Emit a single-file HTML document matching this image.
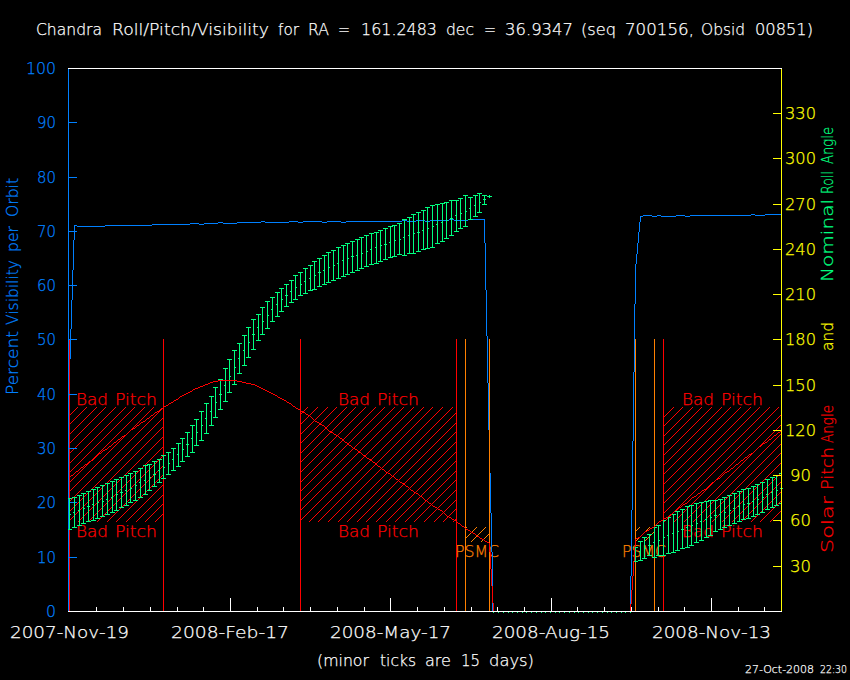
<!DOCTYPE html>
<html><head><meta charset="utf-8"><title>Chandra Roll/Pitch/Visibility</title>
<style>html,body{margin:0;padding:0;background:#000;}svg{display:block}text{font-family:'DejaVu Sans','Liberation Sans',sans-serif;font-weight:200}</style></head>
<body><svg width="850" height="680" viewBox="0 0 850 680">
<rect width="850" height="680" fill="#000"/>
<g shape-rendering="crispEdges">
<clipPath id="h1"><rect x="69" y="407" width="95" height="115"/></clipPath>
<path clip-path="url(#h1)" d="M60.00 405L-59.00 524M70.00 405L-49.00 524M80.00 405L-39.00 524M89.00 405L-30.00 524M99.00 405L-20.00 524M108.00 405L-11.00 524M118.00 405L-1.00 524M128.00 405L9.00 524M137.00 405L18.00 524M147.00 405L28.00 524M156.00 405L37.00 524M166.00 405L47.00 524M176.00 405L57.00 524M185.00 405L66.00 524M195.00 405L76.00 524M205.00 405L86.00 524M214.00 405L95.00 524M224.00 405L105.00 524M233.00 405L114.00 524M243.00 405L124.00 524M253.00 405L134.00 524M262.00 405L143.00 524M272.00 405L153.00 524M281.00 405L162.00 524M291.00 405L172.00 524" stroke="#ff0000" stroke-width="1" fill="none"/>
<clipPath id="h2"><rect x="301" y="407" width="155" height="115"/></clipPath>
<path clip-path="url(#h2)" d="M291.00 405L172.00 524M301.00 405L182.00 524M310.00 405L191.00 524M320.00 405L201.00 524M330.00 405L211.00 524M339.00 405L220.00 524M349.00 405L230.00 524M358.00 405L239.00 524M368.00 405L249.00 524M378.00 405L259.00 524M387.00 405L268.00 524M397.00 405L278.00 524M406.00 405L287.00 524M416.00 405L297.00 524M426.00 405L307.00 524M435.00 405L316.00 524M445.00 405L326.00 524M455.00 405L336.00 524M464.00 405L345.00 524M474.00 405L355.00 524M483.00 405L364.00 524M493.00 405L374.00 524M503.00 405L384.00 524M512.00 405L393.00 524M522.00 405L403.00 524M531.00 405L412.00 524M541.00 405L422.00 524M551.00 405L432.00 524M560.00 405L441.00 524M570.00 405L451.00 524M579.00 405L460.00 524M589.00 405L470.00 524" stroke="#ff0000" stroke-width="1" fill="none"/>
<clipPath id="h3"><rect x="664" y="407" width="117" height="115"/></clipPath>
<path clip-path="url(#h3)" d="M656.00 405L537.00 524M666.00 405L547.00 524M676.00 405L557.00 524M685.00 405L566.00 524M695.00 405L576.00 524M704.00 405L585.00 524M714.00 405L595.00 524M724.00 405L605.00 524M733.00 405L614.00 524M743.00 405L624.00 524M753.00 405L634.00 524M762.00 405L643.00 524M772.00 405L653.00 524M781.00 405L662.00 524M791.00 405L672.00 524M801.00 405L682.00 524M810.00 405L691.00 524M820.00 405L701.00 524M829.00 405L710.00 524M839.00 405L720.00 524M849.00 405L730.00 524M858.00 405L739.00 524M868.00 405L749.00 524M877.00 405L758.00 524M887.00 405L768.00 524M897.00 405L778.00 524M906.00 405L787.00 524M916.00 405L797.00 524" stroke="#ff0000" stroke-width="1" fill="none"/>
<clipPath id="h4"><rect x="466" y="527" width="23" height="15"/></clipPath>
<path clip-path="url(#h4)" d="M450.00 525L431.00 544M459.00 525L440.00 544M469.00 525L450.00 544M479.00 525L460.00 544M488.00 525L469.00 544M498.00 525L479.00 544M508.00 525L489.00 544M517.00 525L498.00 544" stroke="#ff8000" stroke-width="1" fill="none"/>
<clipPath id="h5"><rect x="636" y="527" width="18" height="14"/></clipPath>
<path clip-path="url(#h5)" d="M623.00 525L605.00 543M633.00 525L615.00 543M642.00 525L624.00 543M652.00 525L634.00 543M661.00 525L643.00 543M671.00 525L653.00 543M681.00 525L663.00 543" stroke="#ff8000" stroke-width="1" fill="none"/>
</g>
<text id="bp00a" fill="#ff0000" stroke="#ff0000" stroke-width="0.25" font-size="16.00" textLength="32.00" lengthAdjust="spacingAndGlyphs" x="76.00" y="405.00">Bad</text>
<text id="bp00b" fill="#ff0000" stroke="#ff0000" stroke-width="0.25" font-size="16.00" textLength="42.00" lengthAdjust="spacingAndGlyphs" x="115.00" y="405.00">Pitch</text>
<text id="bp01a" fill="#ff0000" stroke="#ff0000" stroke-width="0.25" font-size="16.00" textLength="32.00" lengthAdjust="spacingAndGlyphs" x="76.00" y="537.00">Bad</text>
<text id="bp01b" fill="#ff0000" stroke="#ff0000" stroke-width="0.25" font-size="16.00" textLength="42.00" lengthAdjust="spacingAndGlyphs" x="115.00" y="537.00">Pitch</text>
<text id="bp10a" fill="#ff0000" stroke="#ff0000" stroke-width="0.25" font-size="16.00" textLength="32.00" lengthAdjust="spacingAndGlyphs" x="338.00" y="405.00">Bad</text>
<text id="bp10b" fill="#ff0000" stroke="#ff0000" stroke-width="0.25" font-size="16.00" textLength="42.00" lengthAdjust="spacingAndGlyphs" x="377.00" y="405.00">Pitch</text>
<text id="bp11a" fill="#ff0000" stroke="#ff0000" stroke-width="0.25" font-size="16.00" textLength="32.00" lengthAdjust="spacingAndGlyphs" x="338.00" y="537.00">Bad</text>
<text id="bp11b" fill="#ff0000" stroke="#ff0000" stroke-width="0.25" font-size="16.00" textLength="42.00" lengthAdjust="spacingAndGlyphs" x="377.00" y="537.00">Pitch</text>
<text id="bp20a" fill="#ff0000" stroke="#ff0000" stroke-width="0.25" font-size="16.00" textLength="32.00" lengthAdjust="spacingAndGlyphs" x="682.00" y="405.00">Bad</text>
<text id="bp20b" fill="#ff0000" stroke="#ff0000" stroke-width="0.25" font-size="16.00" textLength="42.00" lengthAdjust="spacingAndGlyphs" x="721.00" y="405.00">Pitch</text>
<text id="bp21a" fill="#ff0000" stroke="#ff0000" stroke-width="0.25" font-size="16.00" textLength="32.00" lengthAdjust="spacingAndGlyphs" x="682.00" y="537.00">Bad</text>
<text id="bp21b" fill="#ff0000" stroke="#ff0000" stroke-width="0.25" font-size="16.00" textLength="42.00" lengthAdjust="spacingAndGlyphs" x="721.00" y="537.00">Pitch</text>
<text id="ps0" fill="#ff8000" stroke="#ff8000" stroke-width="0.25" font-size="16.00" textLength="44.00" lengthAdjust="spacingAndGlyphs" x="455.00" y="557.00">PSMC</text>
<text id="ps1" fill="#ff8000" stroke="#ff8000" stroke-width="0.25" font-size="16.00" textLength="44.00" lengthAdjust="spacingAndGlyphs" x="622.00" y="557.00">PSMC</text>
<g shape-rendering="crispEdges">
<rect x="69" y="339" width="1" height="272" fill="#ff0000"/>
<rect x="163" y="339" width="1" height="272" fill="#ff0000"/>
<rect x="300" y="339" width="1" height="272" fill="#ff0000"/>
<rect x="456" y="339" width="1" height="272" fill="#ff0000"/>
<rect x="663" y="339" width="1" height="272" fill="#ff0000"/>
<path d="M70 329h1v30h-1zM71 300h1v29h-1zM72 270h1v30h-1zM73 240h1v30h-1zM74 225h1v15h-1zM74 225h3v1h-3zM77 226h28v1h-28zM105 225h47v1h-47zM152 224h38v1h-38zM190 223h9v1h-9zM199 224h5v1h-5zM204 223h14v1h-14zM218 222h5v1h-5zM223 223h14v1h-14zM237 222h24v1h-24zM261 221h4v1h-4zM265 222h24v1h-24zM289 221h9v1h-9zM298 222h5v1h-5zM303 221h19v1h-19zM322 222h5v1h-5zM327 221h14v1h-14zM341 222h5v1h-5zM346 221h56v1h-56zM402 220h5v1h-5zM407 221h9v1h-9zM416 220h9v1h-9zM425 221h5v1h-5zM430 220h19v1h-19zM449 219h5v1h-5zM454 220h14v1h-14zM468 219h17v1h-17zM484 219h1v24h-1zM485 243h1v47h-1zM486 290h1v46h-1zM487 336h1v47h-1zM488 383h1v47h-1zM489 430h1v43h-1zM490 473h1v40h-1zM491 513h1v39h-1zM492 552h1v60h-1zM630 576h1v36h-1zM631 510h1v66h-1zM632 441h1v69h-1zM633 372h1v69h-1zM634 304h1v68h-1zM635 264h1v40h-1zM636 254h1v10h-1zM637 243h1v11h-1zM638 232h1v11h-1zM639 222h1v10h-1zM640 216h1v6h-1zM640 216h3v1h-3zM643 215h9v1h-9zM652 216h5v1h-5zM657 215h4v1h-4zM661 216h15v1h-15zM676 215h9v1h-9zM685 216h5v1h-5zM690 215h61v1h-61zM751 214h4v1h-4zM755 215h10v1h-10zM765 214h16v1h-16z" fill="#0080ff"/>
<rect x="465" y="339" width="1" height="272" fill="#ff8000"/>
<rect x="489" y="339" width="1" height="272" fill="#ff8000"/>
<rect x="635" y="339" width="1" height="272" fill="#ff8000"/>
<rect x="654" y="339" width="1" height="272" fill="#ff8000"/>
<rect x="68" y="68" width="1" height="544" fill="#0080ff"/>
<rect x="68" y="68" width="714" height="1" fill="#ffffff"/>
<rect x="68" y="611" width="714" height="1" fill="#ffffff"/>
<rect x="68" y="557" width="9" height="1" fill="#0080ff"/>
<rect x="68" y="502" width="9" height="1" fill="#0080ff"/>
<rect x="68" y="448" width="9" height="1" fill="#0080ff"/>
<rect x="68" y="394" width="9" height="1" fill="#0080ff"/>
<rect x="68" y="339" width="9" height="1" fill="#0080ff"/>
<rect x="68" y="285" width="9" height="1" fill="#0080ff"/>
<rect x="68" y="231" width="9" height="1" fill="#0080ff"/>
<rect x="68" y="177" width="9" height="1" fill="#0080ff"/>
<rect x="68" y="122" width="9" height="1" fill="#0080ff"/>
<rect x="96" y="607" width="1" height="4" fill="#ffffff"/>
<rect x="123" y="607" width="1" height="4" fill="#ffffff"/>
<rect x="150" y="607" width="1" height="4" fill="#ffffff"/>
<rect x="177" y="607" width="1" height="4" fill="#ffffff"/>
<rect x="203" y="607" width="1" height="4" fill="#ffffff"/>
<rect x="230" y="598" width="1" height="13" fill="#ffffff"/>
<rect x="257" y="607" width="1" height="4" fill="#ffffff"/>
<rect x="283" y="607" width="1" height="4" fill="#ffffff"/>
<rect x="310" y="607" width="1" height="4" fill="#ffffff"/>
<rect x="337" y="607" width="1" height="4" fill="#ffffff"/>
<rect x="364" y="607" width="1" height="4" fill="#ffffff"/>
<rect x="390" y="598" width="1" height="13" fill="#ffffff"/>
<rect x="417" y="607" width="1" height="4" fill="#ffffff"/>
<rect x="444" y="607" width="1" height="4" fill="#ffffff"/>
<rect x="471" y="607" width="1" height="4" fill="#ffffff"/>
<rect x="497" y="607" width="1" height="4" fill="#ffffff"/>
<rect x="524" y="607" width="1" height="4" fill="#ffffff"/>
<rect x="551" y="598" width="1" height="13" fill="#ffffff"/>
<rect x="577" y="607" width="1" height="4" fill="#ffffff"/>
<rect x="604" y="607" width="1" height="4" fill="#ffffff"/>
<rect x="631" y="607" width="1" height="4" fill="#ffffff"/>
<rect x="658" y="607" width="1" height="4" fill="#ffffff"/>
<rect x="684" y="607" width="1" height="4" fill="#ffffff"/>
<rect x="711" y="598" width="1" height="13" fill="#ffffff"/>
<rect x="738" y="607" width="1" height="4" fill="#ffffff"/>
<rect x="764" y="607" width="1" height="4" fill="#ffffff"/>
<path d="M69 498h1v32h-1zM68 498h4v1h-4zM68 529h4v1h-4zM70 514h1v1h-1zM74 497h1v31h-1zM72 497h5v1h-5zM72 527h5v1h-5zM73 512h1v1h-1zM79 495h1v31h-1zM77 495h5v1h-5zM77 525h5v1h-5zM78 510h1v1h-1zM83 493h1v31h-1zM81 493h5v1h-5zM81 523h5v1h-5zM84 508h1v1h-1zM88 491h1v31h-1zM86 491h5v1h-5zM86 521h5v1h-5zM87 506h3v1h-3zM93 489h1v32h-1zM91 489h5v1h-5zM91 520h5v1h-5zM92 504h1v1h-1zM97 487h1v32h-1zM95 487h5v1h-5zM95 518h5v1h-5zM98 502h1v1h-1zM102 485h1v32h-1zM100 485h5v1h-5zM100 516h5v1h-5zM103 501h1v1h-1zM107 483h1v32h-1zM105 483h5v1h-5zM105 514h5v1h-5zM106 499h1v1h-1zM112 481h1v32h-1zM110 481h5v1h-5zM110 512h5v1h-5zM111 497h1v1h-1zM116 479h1v32h-1zM114 479h5v1h-5zM114 510h5v1h-5zM117 494h1v1h-1zM121 477h1v31h-1zM119 477h5v1h-5zM119 507h5v1h-5zM120 492h3v1h-3zM126 475h1v31h-1zM124 475h5v1h-5zM124 505h5v1h-5zM125 490h1v1h-1zM130 473h1v30h-1zM128 473h5v1h-5zM128 502h5v1h-5zM131 488h1v1h-1zM135 471h1v30h-1zM133 471h5v1h-5zM133 500h5v1h-5zM136 485h1v1h-1zM140 468h1v30h-1zM138 468h5v1h-5zM138 497h5v1h-5zM139 482h1v1h-1zM145 465h1v30h-1zM143 465h5v1h-5zM143 494h5v1h-5zM144 480h1v1h-1zM149 464h1v27h-1zM147 464h5v1h-5zM147 490h5v1h-5zM150 477h1v1h-1zM154 461h1v26h-1zM152 461h5v1h-5zM152 486h5v1h-5zM153 474h3v1h-3zM159 459h1v24h-1zM157 459h5v1h-5zM157 482h5v1h-5zM158 470h1v1h-1zM163 455h1v24h-1zM161 455h5v1h-5zM161 478h5v1h-5zM164 467h1v1h-1zM168 452h1v23h-1zM166 452h5v1h-5zM166 474h5v1h-5zM169 463h1v1h-1zM173 448h1v23h-1zM171 448h5v1h-5zM171 470h5v1h-5zM172 459h1v1h-1zM178 443h1v24h-1zM176 443h5v1h-5zM176 466h5v1h-5zM177 454h1v1h-1zM182 438h1v24h-1zM180 438h5v1h-5zM180 461h5v1h-5zM183 449h1v1h-1zM187 432h1v25h-1zM185 432h5v1h-5zM185 456h5v1h-5zM186 444h3v1h-3zM192 425h1v28h-1zM190 425h5v1h-5zM190 452h5v1h-5zM191 438h1v1h-1zM196 419h1v27h-1zM194 419h5v1h-5zM194 445h5v1h-5zM197 432h1v1h-1zM201 411h1v30h-1zM199 411h5v1h-5zM199 440h5v1h-5zM202 425h1v1h-1zM206 403h1v31h-1zM204 403h5v1h-5zM204 433h5v1h-5zM205 418h1v1h-1zM211 396h1v30h-1zM209 396h5v1h-5zM209 425h5v1h-5zM210 411h1v1h-1zM215 387h1v31h-1zM213 387h5v1h-5zM213 417h5v1h-5zM216 402h1v1h-1zM220 379h1v31h-1zM218 379h5v1h-5zM218 409h5v1h-5zM219 394h3v1h-3zM225 368h1v34h-1zM223 368h5v1h-5zM223 401h5v1h-5zM224 385h1v1h-1zM229 359h1v34h-1zM227 359h5v1h-5zM227 392h5v1h-5zM230 376h1v1h-1zM234 350h1v35h-1zM232 350h5v1h-5zM232 384h5v1h-5zM235 367h1v1h-1zM239 343h1v31h-1zM237 343h5v1h-5zM237 373h5v1h-5zM238 358h1v1h-1zM244 335h1v31h-1zM242 335h5v1h-5zM242 365h5v1h-5zM243 350h1v1h-1zM248 327h1v31h-1zM246 327h5v1h-5zM246 357h5v1h-5zM249 342h1v1h-1zM253 319h1v31h-1zM251 319h5v1h-5zM251 349h5v1h-5zM252 334h3v1h-3zM258 314h1v27h-1zM256 314h5v1h-5zM256 340h5v1h-5zM257 327h1v1h-1zM262 307h1v28h-1zM260 307h5v1h-5zM260 334h5v1h-5zM263 321h1v1h-1zM267 301h1v28h-1zM265 301h5v1h-5zM265 328h5v1h-5zM268 315h1v1h-1zM272 297h1v25h-1zM270 297h5v1h-5zM270 321h5v1h-5zM271 309h1v1h-1zM277 292h1v25h-1zM275 292h5v1h-5zM275 316h5v1h-5zM276 304h1v1h-1zM281 288h1v24h-1zM279 288h5v1h-5zM279 311h5v1h-5zM282 299h1v1h-1zM286 284h1v23h-1zM284 284h5v1h-5zM284 306h5v1h-5zM285 295h3v1h-3zM291 280h1v23h-1zM289 280h5v1h-5zM289 302h5v1h-5zM290 291h1v1h-1zM295 275h1v25h-1zM293 275h5v1h-5zM293 299h5v1h-5zM296 287h1v1h-1zM300 272h1v24h-1zM298 272h5v1h-5zM298 295h5v1h-5zM301 284h1v1h-1zM305 268h1v26h-1zM303 268h5v1h-5zM303 293h5v1h-5zM304 281h1v1h-1zM310 265h1v26h-1zM308 265h5v1h-5zM308 290h5v1h-5zM309 278h1v1h-1zM314 261h1v29h-1zM312 261h5v1h-5zM312 289h5v1h-5zM315 275h1v1h-1zM319 258h1v29h-1zM317 258h5v1h-5zM317 286h5v1h-5zM318 272h3v1h-3zM324 255h1v30h-1zM322 255h5v1h-5zM322 284h5v1h-5zM323 270h1v1h-1zM328 252h1v31h-1zM326 252h5v1h-5zM326 282h5v1h-5zM329 267h1v1h-1zM333 250h1v31h-1zM331 250h5v1h-5zM331 280h5v1h-5zM334 265h1v1h-1zM338 247h1v32h-1zM336 247h5v1h-5zM336 278h5v1h-5zM337 263h1v1h-1zM343 245h1v32h-1zM341 245h5v1h-5zM341 276h5v1h-5zM342 260h1v1h-1zM347 243h1v32h-1zM345 243h5v1h-5zM345 274h5v1h-5zM348 258h1v1h-1zM352 241h1v32h-1zM350 241h5v1h-5zM350 272h5v1h-5zM351 256h3v1h-3zM357 239h1v32h-1zM355 239h5v1h-5zM355 270h5v1h-5zM356 255h1v1h-1zM361 237h1v32h-1zM359 237h5v1h-5zM359 268h5v1h-5zM362 253h1v1h-1zM366 235h1v32h-1zM364 235h5v1h-5zM364 266h5v1h-5zM367 251h1v1h-1zM371 233h1v32h-1zM369 233h5v1h-5zM369 264h5v1h-5zM370 249h1v1h-1zM376 232h1v32h-1zM374 232h5v1h-5zM374 263h5v1h-5zM375 247h1v1h-1zM380 230h1v32h-1zM378 230h5v1h-5zM378 261h5v1h-5zM381 245h1v1h-1zM385 228h1v32h-1zM383 228h5v1h-5zM383 259h5v1h-5zM384 244h3v1h-3zM390 226h1v32h-1zM388 226h5v1h-5zM388 257h5v1h-5zM389 242h1v1h-1zM394 225h1v32h-1zM392 225h5v1h-5zM392 256h5v1h-5zM395 240h1v1h-1zM399 223h1v32h-1zM397 223h5v1h-5zM397 254h5v1h-5zM400 239h1v1h-1zM404 219h1v37h-1zM402 219h5v1h-5zM402 255h5v1h-5zM403 237h1v1h-1zM409 217h1v37h-1zM407 217h5v1h-5zM407 253h5v1h-5zM408 235h1v1h-1zM413 214h1v40h-1zM411 214h5v1h-5zM411 253h5v1h-5zM414 233h1v1h-1zM418 212h1v40h-1zM416 212h5v1h-5zM416 251h5v1h-5zM417 232h3v1h-3zM423 210h1v40h-1zM421 210h5v1h-5zM421 249h5v1h-5zM422 230h1v1h-1zM427 207h1v42h-1zM425 207h5v1h-5zM425 248h5v1h-5zM428 228h1v1h-1zM432 205h1v43h-1zM430 205h5v1h-5zM430 247h5v1h-5zM433 226h1v1h-1zM437 204h1v40h-1zM435 204h5v1h-5zM435 243h5v1h-5zM436 224h1v1h-1zM442 203h1v39h-1zM440 203h5v1h-5zM440 241h5v1h-5zM441 222h1v1h-1zM446 202h1v37h-1zM444 202h5v1h-5zM444 238h5v1h-5zM447 220h1v1h-1zM451 200h1v36h-1zM449 200h5v1h-5zM449 235h5v1h-5zM450 218h3v1h-3zM456 200h1v32h-1zM454 200h5v1h-5zM454 231h5v1h-5zM455 215h1v1h-1zM460 198h1v31h-1zM458 198h5v1h-5zM458 228h5v1h-5zM461 213h1v1h-1zM465 195h1v32h-1zM463 195h5v1h-5zM463 226h5v1h-5zM466 211h1v1h-1zM470 197h1v23h-1zM468 197h5v1h-5zM468 219h5v1h-5zM469 208h1v1h-1zM475 195h1v22h-1zM473 195h5v1h-5zM473 216h5v1h-5zM474 205h1v1h-1zM479 193h1v20h-1zM477 193h5v1h-5zM477 212h5v1h-5zM480 202h1v1h-1zM484 195h1v10h-1zM482 195h5v1h-5zM482 204h5v1h-5zM483 199h3v1h-3zM489 196h1v1h-1zM487 196h5v1h-5zM487 196h5v1h-5zM488 196h1v1h-1zM489 195h1v3h-1zM493 612h1v1h-1zM498 612h1v1h-1zM503 612h1v1h-1zM508 612h1v1h-1zM512 612h1v1h-1zM517 612h1v1h-1zM522 612h1v1h-1zM526 612h1v1h-1zM531 612h1v1h-1zM536 612h1v1h-1zM541 612h1v1h-1zM545 612h1v1h-1zM550 612h1v1h-1zM555 612h1v1h-1zM559 612h1v1h-1zM564 612h1v1h-1zM569 612h1v1h-1zM574 612h1v1h-1zM578 612h1v1h-1zM583 612h1v1h-1zM588 612h1v1h-1zM592 612h1v1h-1zM597 612h1v1h-1zM602 612h1v1h-1zM607 612h1v1h-1zM611 612h1v1h-1zM616 612h1v1h-1zM621 612h1v1h-1zM625 612h1v1h-1zM630 612h1v1h-1zM635 547h1v15h-1zM633 547h5v1h-5zM633 561h5v1h-5zM634 554h1v1h-1zM640 541h1v20h-1zM638 541h5v1h-5zM638 560h5v1h-5zM639 551h1v1h-1zM644 537h1v22h-1zM642 537h5v1h-5zM642 558h5v1h-5zM645 548h1v1h-1zM649 534h1v22h-1zM647 534h5v1h-5zM647 555h5v1h-5zM648 545h3v1h-3zM654 527h1v31h-1zM652 527h5v1h-5zM652 557h5v1h-5zM653 542h1v1h-1zM658 525h1v31h-1zM656 525h5v1h-5zM656 555h5v1h-5zM659 540h1v1h-1zM663 520h1v36h-1zM661 520h5v1h-5zM661 555h5v1h-5zM664 537h1v1h-1zM668 517h1v37h-1zM666 517h5v1h-5zM666 553h5v1h-5zM667 535h1v1h-1zM673 514h1v39h-1zM671 514h5v1h-5zM671 552h5v1h-5zM672 533h1v1h-1zM677 511h1v40h-1zM675 511h5v1h-5zM675 550h5v1h-5zM678 531h1v1h-1zM682 509h1v40h-1zM680 509h5v1h-5zM680 548h5v1h-5zM681 529h3v1h-3zM687 506h1v42h-1zM685 506h5v1h-5zM685 547h5v1h-5zM686 527h1v1h-1zM691 505h1v41h-1zM689 505h5v1h-5zM689 545h5v1h-5zM692 525h1v1h-1zM696 503h1v40h-1zM694 503h5v1h-5zM694 542h5v1h-5zM697 523h1v1h-1zM701 502h1v39h-1zM699 502h5v1h-5zM699 540h5v1h-5zM700 521h1v1h-1zM706 501h1v37h-1zM704 501h5v1h-5zM704 537h5v1h-5zM705 519h1v1h-1zM710 500h1v36h-1zM708 500h5v1h-5zM708 535h5v1h-5zM711 517h1v1h-1zM715 500h1v32h-1zM713 500h5v1h-5zM713 531h5v1h-5zM714 515h3v1h-3zM720 499h1v31h-1zM718 499h5v1h-5zM718 529h5v1h-5zM719 514h1v1h-1zM724 497h1v31h-1zM722 497h5v1h-5zM722 527h5v1h-5zM725 512h1v1h-1zM729 495h1v31h-1zM727 495h5v1h-5zM727 525h5v1h-5zM730 510h1v1h-1zM734 493h1v31h-1zM732 493h5v1h-5zM732 523h5v1h-5zM733 508h1v1h-1zM739 491h1v31h-1zM737 491h5v1h-5zM737 521h5v1h-5zM738 506h1v1h-1zM743 489h1v31h-1zM741 489h5v1h-5zM741 519h5v1h-5zM744 504h1v1h-1zM748 488h1v31h-1zM746 488h5v1h-5zM746 518h5v1h-5zM747 503h3v1h-3zM753 486h1v31h-1zM751 486h5v1h-5zM751 516h5v1h-5zM752 501h1v1h-1zM757 484h1v31h-1zM755 484h5v1h-5zM755 514h5v1h-5zM758 499h1v1h-1zM762 482h1v31h-1zM760 482h5v1h-5zM760 512h5v1h-5zM763 497h1v1h-1zM767 479h1v31h-1zM765 479h5v1h-5zM765 509h5v1h-5zM766 494h1v1h-1zM772 477h1v31h-1zM770 477h5v1h-5zM770 507h5v1h-5zM771 492h1v1h-1zM776 475h1v31h-1zM774 475h5v1h-5zM774 505h5v1h-5zM777 490h1v1h-1zM779 473h2v1h-2zM779 503h2v1h-2zM780 488h3v1h-3z" fill="#00ff80"/>
<path d="M218 380h19v1h-19zM213 381h5v1h-5zM237 381h5v1h-5zM210 382h3v1h-3zM242 382h4v1h-4zM208 383h2v1h-2zM246 383h5v1h-5zM205 384h3v1h-3zM251 384h4v1h-4zM203 385h2v1h-2zM255 385h2v1h-2zM200 386h3v1h-3zM257 386h2v1h-2zM198 387h2v1h-2zM259 387h2v1h-2zM195 388h3v1h-3zM261 388h2v1h-2zM193 389h2v1h-2zM263 389h2v1h-2zM192 390h1v1h-1zM265 390h2v1h-2zM190 391h2v1h-2zM267 391h2v1h-2zM188 392h2v1h-2zM269 392h2v1h-2zM186 393h2v1h-2zM271 393h2v1h-2zM184 394h2v1h-2zM273 394h2v1h-2zM182 395h2v1h-2zM275 395h2v1h-2zM180 396h2v1h-2zM277 396h1v1h-1zM179 397h1v1h-1zM278 397h2v1h-2zM178 398h1v1h-1zM280 398h2v1h-2zM176 399h2v1h-2zM282 399h2v1h-2zM174 400h2v1h-2zM284 400h2v1h-2zM173 401h1v1h-1zM286 401h1v1h-1zM171 402h2v1h-2zM287 402h2v1h-2zM169 403h2v1h-2zM289 403h2v1h-2zM168 404h1v1h-1zM291 404h1v1h-1zM166 405h2v1h-2zM292 405h1v1h-1zM164 406h2v1h-2zM293 406h2v1h-2zM163 407h1v1h-1zM295 407h1v1h-1zM161 408h2v1h-2zM296 408h2v1h-2zM160 409h1v1h-1zM298 409h2v1h-2zM159 410h1v1h-1zM300 410h1v1h-1zM157 411h2v1h-2zM301 411h2v1h-2zM155 412h2v1h-2zM303 412h2v1h-2zM154 413h1v1h-1zM305 413h1v1h-1zM153 414h1v1h-1zM306 414h2v1h-2zM151 415h2v1h-2zM308 415h2v1h-2zM150 416h1v1h-1zM310 416h1v1h-1zM149 417h1v1h-1zM311 417h1v1h-1zM147 418h2v1h-2zM312 418h1v1h-1zM146 419h1v1h-1zM313 419h1v1h-1zM145 420h1v1h-1zM314 420h1v1h-1zM143 421h2v1h-2zM315 421h2v1h-2zM141 422h2v1h-2zM317 422h2v1h-2zM140 423h1v1h-1zM319 423h1v1h-1zM139 424h1v1h-1zM320 424h2v1h-2zM137 425h2v1h-2zM322 425h2v1h-2zM136 426h1v1h-1zM324 426h1v1h-1zM135 427h1v1h-1zM325 427h1v1h-1zM133 428h2v1h-2zM326 428h1v1h-1zM131 429h2v1h-2zM327 429h1v1h-1zM130 430h1v1h-1zM328 430h1v1h-1zM129 431h1v1h-1zM329 431h2v1h-2zM780 431h1v1h-1zM128 432h1v1h-1zM331 432h2v1h-2zM778 432h2v1h-2zM127 433h1v1h-1zM333 433h1v1h-1zM777 433h1v1h-1zM126 434h1v1h-1zM334 434h2v1h-2zM776 434h1v1h-1zM124 435h2v1h-2zM336 435h2v1h-2zM774 435h2v1h-2zM122 436h2v1h-2zM338 436h1v1h-1zM773 436h1v1h-1zM121 437h1v1h-1zM339 437h1v1h-1zM772 437h1v1h-1zM120 438h1v1h-1zM340 438h2v1h-2zM771 438h1v1h-1zM118 439h2v1h-2zM342 439h1v1h-1zM769 439h2v1h-2zM117 440h1v1h-1zM343 440h1v1h-1zM768 440h1v1h-1zM116 441h1v1h-1zM344 441h1v1h-1zM767 441h1v1h-1zM114 442h2v1h-2zM345 442h2v1h-2zM765 442h2v1h-2zM113 443h1v1h-1zM347 443h1v1h-1zM763 443h2v1h-2zM112 444h1v1h-1zM348 444h1v1h-1zM762 444h1v1h-1zM111 445h1v1h-1zM349 445h2v1h-2zM761 445h1v1h-1zM109 446h2v1h-2zM351 446h1v1h-1zM759 446h2v1h-2zM108 447h1v1h-1zM352 447h1v1h-1zM758 447h1v1h-1zM107 448h1v1h-1zM353 448h2v1h-2zM757 448h1v1h-1zM105 449h2v1h-2zM355 449h2v1h-2zM756 449h1v1h-1zM103 450h2v1h-2zM357 450h1v1h-1zM755 450h1v1h-1zM102 451h1v1h-1zM358 451h1v1h-1zM754 451h1v1h-1zM101 452h1v1h-1zM359 452h2v1h-2zM753 452h1v1h-1zM99 453h2v1h-2zM361 453h1v1h-1zM751 453h2v1h-2zM98 454h1v1h-1zM362 454h1v1h-1zM749 454h2v1h-2zM97 455h1v1h-1zM363 455h2v1h-2zM748 455h1v1h-1zM96 456h1v1h-1zM365 456h1v1h-1zM747 456h1v1h-1zM95 457h1v1h-1zM366 457h1v1h-1zM745 457h2v1h-2zM94 458h1v1h-1zM367 458h2v1h-2zM744 458h1v1h-1zM93 459h1v1h-1zM369 459h2v1h-2zM743 459h1v1h-1zM91 460h2v1h-2zM371 460h1v1h-1zM741 460h2v1h-2zM89 461h2v1h-2zM372 461h1v1h-1zM740 461h1v1h-1zM88 462h1v1h-1zM373 462h2v1h-2zM739 462h1v1h-1zM87 463h1v1h-1zM375 463h1v1h-1zM738 463h1v1h-1zM85 464h2v1h-2zM376 464h1v1h-1zM736 464h2v1h-2zM84 465h1v1h-1zM377 465h1v1h-1zM735 465h1v1h-1zM83 466h1v1h-1zM378 466h2v1h-2zM734 466h1v1h-1zM81 467h2v1h-2zM380 467h1v1h-1zM733 467h1v1h-1zM80 468h1v1h-1zM381 468h1v1h-1zM731 468h2v1h-2zM79 469h1v1h-1zM382 469h2v1h-2zM730 469h1v1h-1zM78 470h1v1h-1zM384 470h1v1h-1zM729 470h1v1h-1zM76 471h2v1h-2zM385 471h1v1h-1zM727 471h2v1h-2zM75 472h1v1h-1zM386 472h2v1h-2zM725 472h2v1h-2zM74 473h1v1h-1zM388 473h2v1h-2zM724 473h1v1h-1zM73 474h1v1h-1zM390 474h1v1h-1zM723 474h1v1h-1zM71 475h2v1h-2zM391 475h1v1h-1zM722 475h1v1h-1zM70 476h1v1h-1zM392 476h2v1h-2zM721 476h1v1h-1zM69 477h1v1h-1zM394 477h1v1h-1zM720 477h1v1h-1zM395 478h1v1h-1zM718 478h2v1h-2zM396 479h2v1h-2zM716 479h2v1h-2zM398 480h1v1h-1zM715 480h1v1h-1zM399 481h1v1h-1zM714 481h1v1h-1zM400 482h2v1h-2zM712 482h2v1h-2zM402 483h2v1h-2zM711 483h1v1h-1zM404 484h1v1h-1zM710 484h1v1h-1zM405 485h1v1h-1zM709 485h1v1h-1zM406 486h2v1h-2zM708 486h1v1h-1zM408 487h1v1h-1zM707 487h1v1h-1zM409 488h1v1h-1zM706 488h1v1h-1zM410 489h1v1h-1zM704 489h2v1h-2zM411 490h2v1h-2zM702 490h2v1h-2zM413 491h1v1h-1zM701 491h1v1h-1zM414 492h2v1h-2zM700 492h1v1h-1zM416 493h2v1h-2zM698 493h2v1h-2zM418 494h1v1h-1zM697 494h1v1h-1zM419 495h1v1h-1zM696 495h1v1h-1zM420 496h2v1h-2zM694 496h2v1h-2zM422 497h1v1h-1zM692 497h2v1h-2zM423 498h1v1h-1zM691 498h1v1h-1zM424 499h1v1h-1zM690 499h1v1h-1zM425 500h2v1h-2zM689 500h1v1h-1zM427 501h1v1h-1zM688 501h1v1h-1zM428 502h1v1h-1zM687 502h1v1h-1zM429 503h2v1h-2zM685 503h2v1h-2zM431 504h1v1h-1zM683 504h2v1h-2zM432 505h1v1h-1zM682 505h1v1h-1zM433 506h2v1h-2zM681 506h1v1h-1zM435 507h2v1h-2zM679 507h2v1h-2zM437 508h1v1h-1zM678 508h1v1h-1zM438 509h2v1h-2zM677 509h1v1h-1zM440 510h2v1h-2zM675 510h2v1h-2zM442 511h1v1h-1zM674 511h1v1h-1zM443 512h1v1h-1zM673 512h1v1h-1zM444 513h1v1h-1zM672 513h1v1h-1zM445 514h1v1h-1zM670 514h2v1h-2zM446 515h1v1h-1zM669 515h1v1h-1zM447 516h2v1h-2zM668 516h1v1h-1zM449 517h2v1h-2zM666 517h2v1h-2zM451 518h1v1h-1zM664 518h2v1h-2zM452 519h2v1h-2zM663 519h1v1h-1zM454 520h2v1h-2zM661 520h2v1h-2zM456 521h1v1h-1zM659 521h2v1h-2zM457 522h1v1h-1zM658 522h1v1h-1zM458 523h2v1h-2zM657 523h1v1h-1zM460 524h1v1h-1zM656 524h1v1h-1zM461 525h1v1h-1zM655 525h1v1h-1zM462 526h2v1h-2zM654 526h1v1h-1zM464 527h1v1h-1zM652 527h2v1h-2zM465 528h1v1h-1zM650 528h2v1h-2zM466 529h2v1h-2zM649 529h1v1h-1zM468 530h2v1h-2zM647 530h2v1h-2zM470 531h1v1h-1zM645 531h2v1h-2zM471 532h2v1h-2zM644 532h1v1h-1zM473 533h2v1h-2zM643 533h1v1h-1zM475 534h1v1h-1zM642 534h1v1h-1zM476 535h1v1h-1zM641 535h1v1h-1zM477 536h2v1h-2zM640 536h1v1h-1zM479 537h1v1h-1zM638 537h2v1h-2zM480 538h2v1h-2zM636 538h2v1h-2zM482 539h2v1h-2zM635 539h1v1h-1zM484 540h1v1h-1zM635 540h1v1h-1zM485 541h2v1h-2zM635 541h1v1h-1zM487 542h2v1h-2zM635 542h1v1h-1zM489 543h1v1h-1zM635 543h1v1h-1zM489 544h1v1h-1zM635 544h1v1h-1zM489 545h1v1h-1zM635 545h1v1h-1zM489 546h1v1h-1zM635 546h1v1h-1zM489 547h1v1h-1zM634 547h1v1h-1zM489 548h1v1h-1zM634 548h1v1h-1zM489 549h1v1h-1zM634 549h1v1h-1zM489 550h1v1h-1zM634 550h1v1h-1zM489 551h1v1h-1zM634 551h1v1h-1zM490 552h1v1h-1zM634 552h1v1h-1zM490 553h1v1h-1zM634 553h1v1h-1zM490 554h1v1h-1zM634 554h1v1h-1zM490 555h1v1h-1zM634 555h1v1h-1zM490 556h1v1h-1zM634 556h1v1h-1zM490 557h1v1h-1zM634 557h1v1h-1zM490 558h1v1h-1zM634 558h1v1h-1zM490 559h1v1h-1zM634 559h1v1h-1zM490 560h1v1h-1zM634 560h1v1h-1zM490 561h1v1h-1zM633 561h1v1h-1zM490 562h1v1h-1zM633 562h1v1h-1zM490 563h1v1h-1zM633 563h1v1h-1zM490 564h1v1h-1zM633 564h1v1h-1zM490 565h1v1h-1zM633 565h1v1h-1zM490 566h1v1h-1zM633 566h1v1h-1zM490 567h1v1h-1zM633 567h1v1h-1zM490 568h1v1h-1zM633 568h1v1h-1zM491 569h1v1h-1zM633 569h1v1h-1zM491 570h1v1h-1zM633 570h1v1h-1zM491 571h1v1h-1zM633 571h1v1h-1zM491 572h1v1h-1zM633 572h1v1h-1zM491 573h1v1h-1zM633 573h1v1h-1zM491 574h1v1h-1zM633 574h1v1h-1zM491 575h1v1h-1zM633 575h1v1h-1zM491 576h1v1h-1zM632 576h1v1h-1zM491 577h1v1h-1zM632 577h1v1h-1zM491 578h1v1h-1zM632 578h1v1h-1zM491 579h1v1h-1zM632 579h1v1h-1zM491 580h1v1h-1zM632 580h1v1h-1zM491 581h1v1h-1zM632 581h1v1h-1zM491 582h1v1h-1zM632 582h1v1h-1zM491 583h1v1h-1zM632 583h1v1h-1zM491 584h1v1h-1zM632 584h1v1h-1zM491 585h1v1h-1zM632 585h1v1h-1zM492 586h1v1h-1zM632 586h1v1h-1zM492 587h1v1h-1zM632 587h1v1h-1zM492 588h1v1h-1zM632 588h1v1h-1zM492 589h1v1h-1zM632 589h1v1h-1zM492 590h1v1h-1zM631 590h1v1h-1zM492 591h1v1h-1zM631 591h1v1h-1zM492 592h1v1h-1zM631 592h1v1h-1zM492 593h1v1h-1zM631 593h1v1h-1zM492 594h1v1h-1zM631 594h1v1h-1zM492 595h1v1h-1zM631 595h1v1h-1zM492 596h1v1h-1zM631 596h1v1h-1zM492 597h1v1h-1zM631 597h1v1h-1zM492 598h1v1h-1zM631 598h1v1h-1zM492 599h1v1h-1zM631 599h1v1h-1zM492 600h1v1h-1zM631 600h1v1h-1zM492 601h1v1h-1zM631 601h1v1h-1zM492 602h1v1h-1zM631 602h1v1h-1zM493 603h1v1h-1zM631 603h1v1h-1zM493 604h1v1h-1zM630 604h1v1h-1zM493 605h1v1h-1zM630 605h1v1h-1zM493 606h1v1h-1zM630 606h1v1h-1zM493 607h1v1h-1zM630 607h1v1h-1zM493 608h1v1h-1zM630 608h1v1h-1zM493 609h1v1h-1zM630 609h1v1h-1zM493 610h1v1h-1zM630 610h1v1h-1z" fill="#ff0000"/>
<rect x="781" y="69" width="1" height="542" fill="#ffff00"/>
<rect x="773" y="566" width="9" height="1" fill="#ffff00"/>
<rect x="773" y="520" width="9" height="1" fill="#ffff00"/>
<rect x="773" y="475" width="9" height="1" fill="#ffff00"/>
<rect x="773" y="430" width="9" height="1" fill="#ffff00"/>
<rect x="773" y="385" width="9" height="1" fill="#ffff00"/>
<rect x="773" y="339" width="9" height="1" fill="#ffff00"/>
<rect x="773" y="294" width="9" height="1" fill="#ffff00"/>
<rect x="773" y="249" width="9" height="1" fill="#ffff00"/>
<rect x="773" y="204" width="9" height="1" fill="#ffff00"/>
<rect x="773" y="158" width="9" height="1" fill="#ffff00"/>
<rect x="773" y="113" width="9" height="1" fill="#ffff00"/>
</g>
<text id="t0" fill="#ffffff" stroke="#ffffff" stroke-width="0.25" font-size="16.50" textLength="66.00" lengthAdjust="spacingAndGlyphs" x="36.00" y="35.00">Chandra</text>
<text id="t1" fill="#ffffff" stroke="#ffffff" stroke-width="0.25" font-size="16.50" textLength="157.00" lengthAdjust="spacingAndGlyphs" x="112.00" y="35.00">Roll/Pitch/Visibility</text>
<text id="t2" fill="#ffffff" stroke="#ffffff" stroke-width="0.25" font-size="16.50" textLength="21.00" lengthAdjust="spacingAndGlyphs" x="278.00" y="35.00">for</text>
<text id="t3" fill="#ffffff" stroke="#ffffff" stroke-width="0.25" font-size="16.50" textLength="21.00" lengthAdjust="spacingAndGlyphs" x="308.00" y="35.00">RA</text>
<text id="t4" fill="#ffffff" stroke="#ffffff" stroke-width="0.25" font-size="16.50" textLength="12.00" lengthAdjust="spacingAndGlyphs" x="338.00" y="35.00">=</text>
<text id="t5" fill="#ffffff" stroke="#ffffff" stroke-width="0.25" font-size="16.50" textLength="76.00" lengthAdjust="spacingAndGlyphs" x="361.00" y="35.00">161.2483</text>
<text id="t6" fill="#ffffff" stroke="#ffffff" stroke-width="0.25" font-size="16.50" textLength="28.00" lengthAdjust="spacingAndGlyphs" x="446.00" y="35.00">dec</text>
<text id="t7" fill="#ffffff" stroke="#ffffff" stroke-width="0.25" font-size="16.50" textLength="12.00" lengthAdjust="spacingAndGlyphs" x="484.00" y="35.00">=</text>
<text id="t8" fill="#ffffff" stroke="#ffffff" stroke-width="0.25" font-size="16.50" textLength="68.00" lengthAdjust="spacingAndGlyphs" x="505.00" y="35.00">36.9347</text>
<text id="t9" fill="#ffffff" stroke="#ffffff" stroke-width="0.25" font-size="16.50" textLength="35.00" lengthAdjust="spacingAndGlyphs" x="581.00" y="35.00">(seq</text>
<text id="t10" fill="#ffffff" stroke="#ffffff" stroke-width="0.25" font-size="16.50" textLength="69.00" lengthAdjust="spacingAndGlyphs" x="625.00" y="35.00">700156,</text>
<text id="t11" fill="#ffffff" stroke="#ffffff" stroke-width="0.25" font-size="16.50" textLength="44.00" lengthAdjust="spacingAndGlyphs" x="701.00" y="35.00">Obsid</text>
<text id="t12" fill="#ffffff" stroke="#ffffff" stroke-width="0.25" font-size="16.50" textLength="58.00" lengthAdjust="spacingAndGlyphs" x="755.00" y="35.00">00851)</text>
<text id="l0" fill="#0080ff" stroke="#0080ff" stroke-width="0.25" font-size="16.50" textLength="10.00" lengthAdjust="spacingAndGlyphs" x="46.00" y="617.00">0</text>
<text id="l10" fill="#0080ff" stroke="#0080ff" stroke-width="0.25" font-size="16.50" textLength="19.00" lengthAdjust="spacingAndGlyphs" x="37.00" y="563.00">10</text>
<text id="l20" fill="#0080ff" stroke="#0080ff" stroke-width="0.25" font-size="16.50" textLength="19.00" lengthAdjust="spacingAndGlyphs" x="37.00" y="508.00">20</text>
<text id="l30" fill="#0080ff" stroke="#0080ff" stroke-width="0.25" font-size="16.50" textLength="19.00" lengthAdjust="spacingAndGlyphs" x="37.00" y="454.00">30</text>
<text id="l40" fill="#0080ff" stroke="#0080ff" stroke-width="0.25" font-size="16.50" textLength="19.00" lengthAdjust="spacingAndGlyphs" x="37.00" y="400.00">40</text>
<text id="l50" fill="#0080ff" stroke="#0080ff" stroke-width="0.25" font-size="16.50" textLength="19.00" lengthAdjust="spacingAndGlyphs" x="37.00" y="345.00">50</text>
<text id="l60" fill="#0080ff" stroke="#0080ff" stroke-width="0.25" font-size="16.50" textLength="19.00" lengthAdjust="spacingAndGlyphs" x="37.00" y="291.00">60</text>
<text id="l70" fill="#0080ff" stroke="#0080ff" stroke-width="0.25" font-size="16.50" textLength="19.00" lengthAdjust="spacingAndGlyphs" x="37.00" y="237.00">70</text>
<text id="l80" fill="#0080ff" stroke="#0080ff" stroke-width="0.25" font-size="16.50" textLength="19.00" lengthAdjust="spacingAndGlyphs" x="37.00" y="183.00">80</text>
<text id="l90" fill="#0080ff" stroke="#0080ff" stroke-width="0.25" font-size="16.50" textLength="19.00" lengthAdjust="spacingAndGlyphs" x="37.00" y="128.00">90</text>
<text id="l100" fill="#0080ff" stroke="#0080ff" stroke-width="0.25" font-size="16.50" textLength="30.00" lengthAdjust="spacingAndGlyphs" x="26.00" y="74.00">100</text>
<text id="r30" fill="#ffff00" stroke="#ffff00" stroke-width="0.25" font-size="16.50" textLength="21.00" lengthAdjust="spacingAndGlyphs" x="790.00" y="572.00">30</text>
<text id="r60" fill="#ffff00" stroke="#ffff00" stroke-width="0.25" font-size="16.50" textLength="21.00" lengthAdjust="spacingAndGlyphs" x="790.00" y="526.00">60</text>
<text id="r90" fill="#ffff00" stroke="#ffff00" stroke-width="0.25" font-size="16.50" textLength="21.00" lengthAdjust="spacingAndGlyphs" x="790.00" y="481.00">90</text>
<text id="r120" fill="#ffff00" stroke="#ffff00" stroke-width="0.25" font-size="16.50" textLength="31.00" lengthAdjust="spacingAndGlyphs" x="785.00" y="436.00">120</text>
<text id="r150" fill="#ffff00" stroke="#ffff00" stroke-width="0.25" font-size="16.50" textLength="31.00" lengthAdjust="spacingAndGlyphs" x="785.00" y="391.00">150</text>
<text id="r180" fill="#ffff00" stroke="#ffff00" stroke-width="0.25" font-size="16.50" textLength="31.00" lengthAdjust="spacingAndGlyphs" x="785.00" y="345.00">180</text>
<text id="r210" fill="#ffff00" stroke="#ffff00" stroke-width="0.25" font-size="16.50" textLength="31.00" lengthAdjust="spacingAndGlyphs" x="785.00" y="300.00">210</text>
<text id="r240" fill="#ffff00" stroke="#ffff00" stroke-width="0.25" font-size="16.50" textLength="31.00" lengthAdjust="spacingAndGlyphs" x="785.00" y="255.00">240</text>
<text id="r270" fill="#ffff00" stroke="#ffff00" stroke-width="0.25" font-size="16.50" textLength="31.00" lengthAdjust="spacingAndGlyphs" x="785.00" y="210.00">270</text>
<text id="r300" fill="#ffff00" stroke="#ffff00" stroke-width="0.25" font-size="16.50" textLength="31.00" lengthAdjust="spacingAndGlyphs" x="785.00" y="164.00">300</text>
<text id="r330" fill="#ffff00" stroke="#ffff00" stroke-width="0.25" font-size="16.50" textLength="31.00" lengthAdjust="spacingAndGlyphs" x="785.00" y="119.00">330</text>
<text id="d0" fill="#ffffff" stroke="#ffffff" stroke-width="0.25" font-size="16.50" textLength="119.00" lengthAdjust="spacingAndGlyphs" x="10.00" y="638.00">2007-Nov-19</text>
<text id="d1" fill="#ffffff" stroke="#ffffff" stroke-width="0.25" font-size="16.50" textLength="118.00" lengthAdjust="spacingAndGlyphs" x="171.00" y="638.00">2008-Feb-17</text>
<text id="d2" fill="#ffffff" stroke="#ffffff" stroke-width="0.25" font-size="16.50" textLength="121.00" lengthAdjust="spacingAndGlyphs" x="330.00" y="638.00">2008-May-17</text>
<text id="d3" fill="#ffffff" stroke="#ffffff" stroke-width="0.25" font-size="16.50" textLength="118.00" lengthAdjust="spacingAndGlyphs" x="492.00" y="638.00">2008-Aug-15</text>
<text id="d4" fill="#ffffff" stroke="#ffffff" stroke-width="0.25" font-size="16.50" textLength="119.00" lengthAdjust="spacingAndGlyphs" x="652.00" y="638.00">2008-Nov-13</text>
<text id="m0" fill="#ffffff" stroke="#ffffff" stroke-width="0.25" font-size="16.50" textLength="52.00" lengthAdjust="spacingAndGlyphs" x="317.00" y="666.00">(minor</text>
<text id="m1" fill="#ffffff" stroke="#ffffff" stroke-width="0.25" font-size="16.50" textLength="36.00" lengthAdjust="spacingAndGlyphs" x="380.00" y="666.00">ticks</text>
<text id="m2" fill="#ffffff" stroke="#ffffff" stroke-width="0.25" font-size="16.50" textLength="26.00" lengthAdjust="spacingAndGlyphs" x="425.00" y="666.00">are</text>
<text id="m3" fill="#ffffff" stroke="#ffffff" stroke-width="0.25" font-size="16.50" textLength="19.00" lengthAdjust="spacingAndGlyphs" x="461.00" y="666.00">15</text>
<text id="m4" fill="#ffffff" stroke="#ffffff" stroke-width="0.25" font-size="16.50" textLength="45.00" lengthAdjust="spacingAndGlyphs" x="489.00" y="666.00">days)</text>
<text id="dt0" fill="#ffffff" stroke="#ffffff" stroke-width="0.25" font-size="10.60" textLength="69.00" lengthAdjust="spacingAndGlyphs" x="745.00" y="673.00">27-Oct-2008</text>
<text id="dt1" fill="#ffffff" stroke="#ffffff" stroke-width="0.25" font-size="10.60" textLength="27.00" lengthAdjust="spacingAndGlyphs" x="820.00" y="673.00">22:30</text>
<text id="y0" fill="#0080ff" stroke="#0080ff" stroke-width="0.25" font-size="16.50" textLength="64.00" lengthAdjust="spacingAndGlyphs" transform="translate(18.00 395.00) rotate(-90)">Percent</text>
<text id="y1" fill="#0080ff" stroke="#0080ff" stroke-width="0.25" font-size="16.50" textLength="65.00" lengthAdjust="spacingAndGlyphs" transform="translate(18.00 325.00) rotate(-90)">Visibility</text>
<text id="y2" fill="#0080ff" stroke="#0080ff" stroke-width="0.25" font-size="16.50" textLength="26.00" lengthAdjust="spacingAndGlyphs" transform="translate(18.00 252.00) rotate(-90)">per</text>
<text id="y3" fill="#0080ff" stroke="#0080ff" stroke-width="0.25" font-size="16.50" textLength="39.00" lengthAdjust="spacingAndGlyphs" transform="translate(18.00 217.00) rotate(-90)">Orbit</text>
<text id="rt0" fill="#ff0000" stroke="#ff0000" stroke-width="0.25" font-size="16.50" textLength="57.00" lengthAdjust="spacingAndGlyphs" transform="translate(833.00 553.00) rotate(-90)">Solar</text>
<text id="rt1" fill="#ff0000" stroke="#ff0000" stroke-width="0.25" font-size="16.50" textLength="43.00" lengthAdjust="spacingAndGlyphs" transform="translate(833.00 490.00) rotate(-90)">Pitch</text>
<text id="rt2" fill="#ff0000" stroke="#ff0000" stroke-width="0.25" font-size="16.50" textLength="38.00" lengthAdjust="spacingAndGlyphs" transform="translate(833.00 443.00) rotate(-90)">Angle</text>
<text id="rt3" fill="#ffff00" stroke="#ffff00" stroke-width="0.25" font-size="16.50" textLength="29.00" lengthAdjust="spacingAndGlyphs" transform="translate(833.00 351.00) rotate(-90)">and</text>
<text id="rt4" fill="#00ff80" stroke="#00ff80" stroke-width="0.25" font-size="16.50" textLength="83.00" lengthAdjust="spacingAndGlyphs" transform="translate(833.00 282.00) rotate(-90)">Nominal</text>
<text id="rt5" fill="#00ff80" stroke="#00ff80" stroke-width="0.25" font-size="16.50" textLength="23.00" lengthAdjust="spacingAndGlyphs" transform="translate(833.00 194.00) rotate(-90)">Roll</text>
<text id="rt6" fill="#00ff80" stroke="#00ff80" stroke-width="0.25" font-size="16.50" textLength="37.00" lengthAdjust="spacingAndGlyphs" transform="translate(833.00 164.00) rotate(-90)">Angle</text>
</svg></body></html>
